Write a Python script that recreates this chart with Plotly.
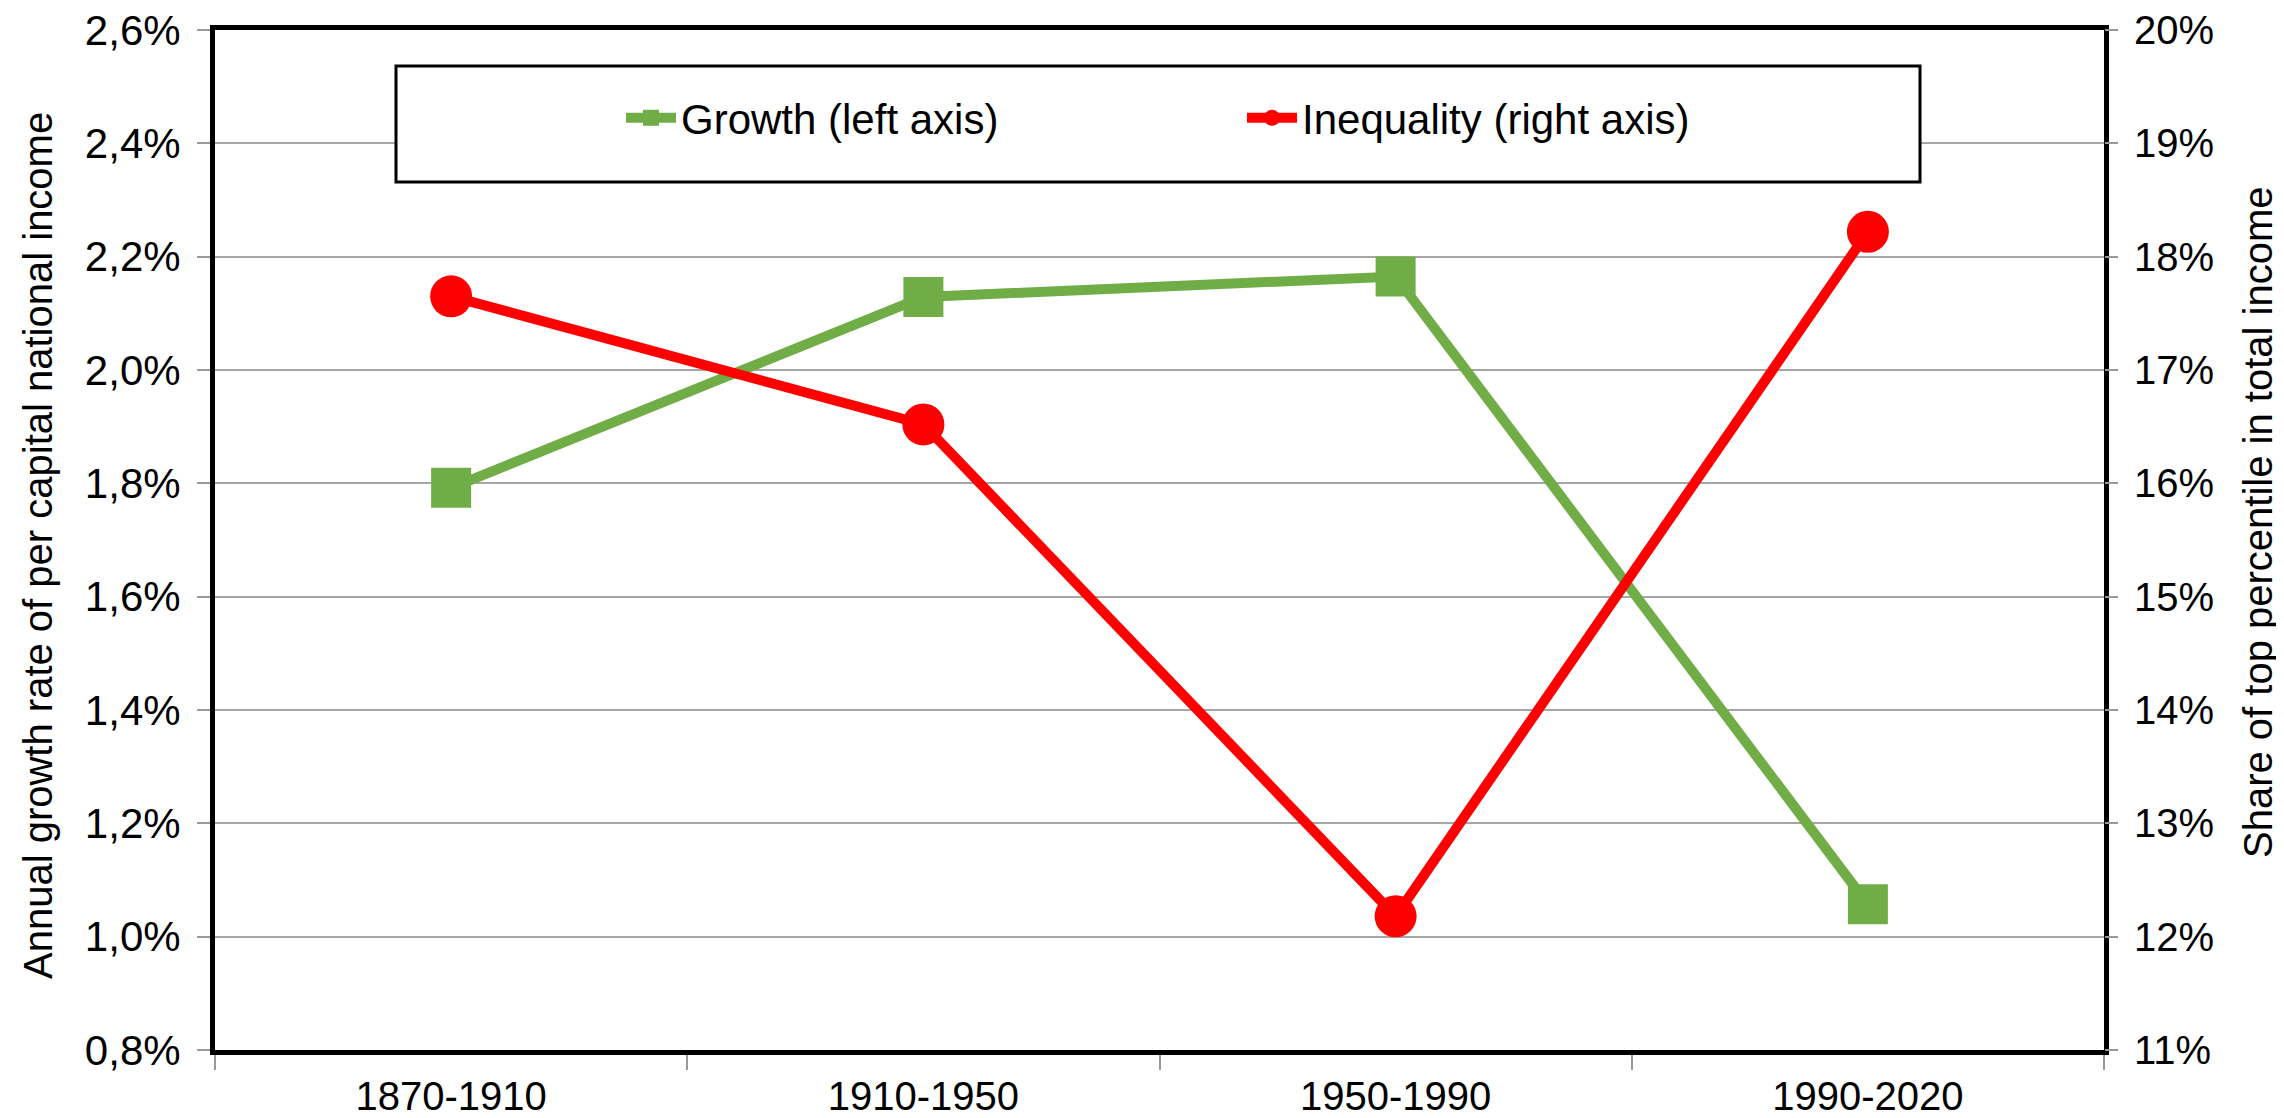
import plotly.graph_objects as go

# ---- data ----
periods = ["1870-1910", "1910-1950", "1950-1990", "1990-2020"]
growth = [1.792, 2.129, 2.165, 1.057]          # % per year (left axis)
inequality = [17.65, 16.52, 12.18, 18.22]      # top 1% share, % (right axis)

left_title = "Annual growth rate of per capital national income"
right_title = "Share of top percentile in total income"

FONT = "Liberation Sans, Arial, sans-serif"
GREEN = "#70AD47"
RED = "#FF0000"

OFF = 8  # default page body margin
W, H = 2284 - OFF, 1118 - OFF
L, R, T, B = 215 - OFF, 180, 30 - OFF, 68
pw, ph = W - L - R, H - T - B


def px(xp):  # page pixel x -> paper fraction
    return (xp - OFF - L) / pw


def py(yp):  # page pixel y -> paper fraction
    return (H - B - (yp - OFF)) / ph


fig = go.Figure()
fig.add_trace(go.Scatter(
    x=periods, y=growth, name="Growth (left axis)", mode="lines+markers",
    line=dict(color=GREEN, width=10),
    marker=dict(symbol="square", size=40, color=GREEN),
    yaxis="y", legend="legend"))
fig.add_trace(go.Scatter(
    x=periods, y=inequality, name="Inequality (right axis)", mode="lines+markers",
    line=dict(color=RED, width=10),
    marker=dict(symbol="circle", size=42, color=RED),
    yaxis="y2", legend="legend2"))

fig.update_layout(
    width=W, height=H,
    margin=dict(l=L, r=R, t=T, b=B, autoexpand=False),
    paper_bgcolor="white", plot_bgcolor="white",
    separators=", ",
    font=dict(family=FONT, size=40, color="black"),
    xaxis=dict(
        type="category", range=[-0.5, 3.5], tickson="boundaries",
        ticks="outside", ticklen=15, tickwidth=2, tickcolor="#999999",
        showgrid=False, showline=True, linecolor="black", linewidth=5,
        mirror=True, tickfont=dict(size=40), ticklabelstandoff=7,
        ticklabeloverflow="allow"),
    yaxis=dict(
        range=[0.8, 2.6], dtick=0.2, tick0=0.8, tickformat=".1f", ticksuffix="%",
        ticks="outside", ticklen=13, tickwidth=2, tickcolor="#999999",
        showgrid=True, gridcolor="#A6A6A6", gridwidth=2,
        showline=True, linecolor="black", linewidth=5, mirror=True,
        zeroline=False, tickfont=dict(size=42), ticklabelstandoff=8,
        ticklabeloverflow="allow"),
    yaxis2=dict(
        overlaying="y", side="right",
        range=[11, 20], dtick=1, tick0=11, ticksuffix="%",
        ticks="outside", ticklen=13, tickwidth=2, tickcolor="#999999",
        showgrid=False, zeroline=False, showline=False,
        tickfont=dict(size=40), ticklabelstandoff=8,
        ticklabeloverflow="allow"),
    showlegend=True,
    legend=dict(x=px(621), y=py(118), xanchor="left", yanchor="middle",
                orientation="h", bgcolor="rgba(0,0,0,0)", borderwidth=0,
                font=dict(size=42), itemwidth=50),
    legend2=dict(x=px(1242), y=py(118), xanchor="left", yanchor="middle",
                 orientation="h", bgcolor="rgba(0,0,0,0)", borderwidth=0,
                 font=dict(size=42), itemwidth=50),
    shapes=[dict(type="rect", xref="paper", yref="paper",
                 x0=px(396), x1=px(1920), y0=py(182), y1=py(66),
                 line=dict(color="black", width=3), fillcolor="white",
                 layer="above")],
    annotations=[
        dict(text=left_title, xref="paper", yref="paper", x=px(38), y=py(546),
             xanchor="center", yanchor="middle", textangle=-90,
             showarrow=False, font=dict(size=40)),
        dict(text=right_title, xref="paper", yref="paper", x=px(2258), y=py(522),
             xanchor="center", yanchor="middle", textangle=-90,
             showarrow=False, font=dict(size=40)),
    ],
)

fig.write_html("out.html")
